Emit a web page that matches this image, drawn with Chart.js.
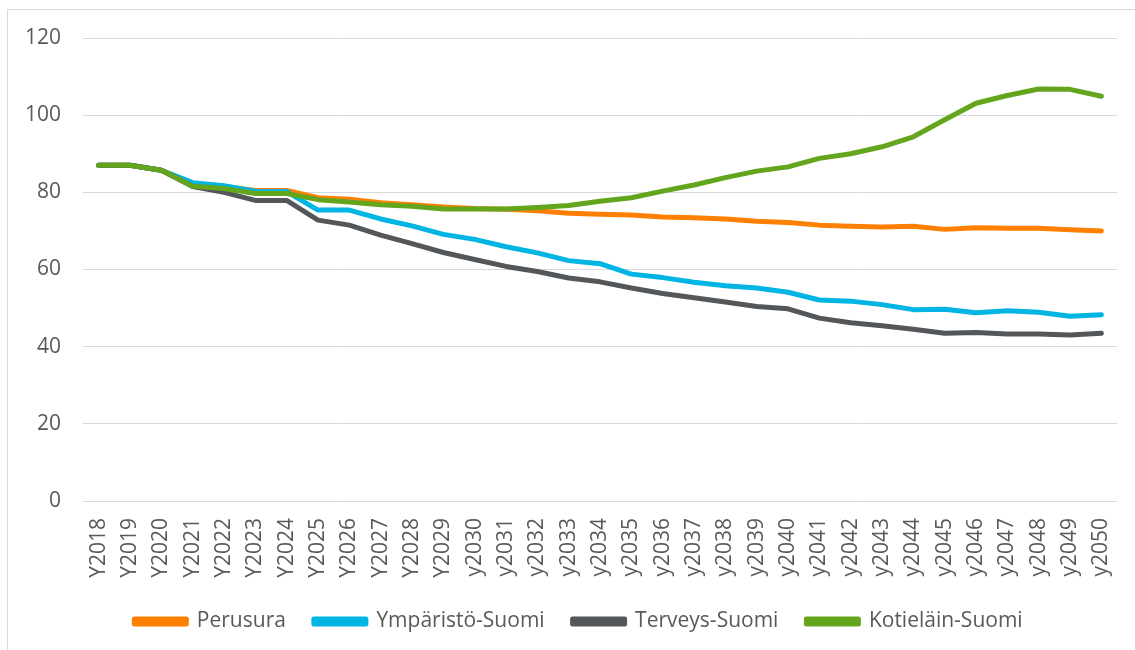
<!DOCTYPE html>
<html>
<head>
<meta charset="utf-8">
<script src="https://cdn.jsdelivr.net/npm/chart.js@4"></script>
<style>
  html, body { margin: 0; padding: 0; background: #fff; }
  #wrap { position: relative; width: 1135px; height: 650px; overflow: hidden; }
  #frame { position: absolute; left: 7px; top: 9px; width: 1200px; height: 700px;
           border-left: 1px solid #d9d9d9; border-top: 1px solid #d9d9d9; pointer-events: none; }
  canvas { position: absolute; left: 0; top: 0; }
</style>
</head>
<body>
<div id="wrap">
  <div id="frame"></div>
  <canvas id="chart" width="1135" height="650"></canvas>
</div>
<script>
var years = ['Y2018', 'Y2019', 'Y2020', 'Y2021', 'Y2022', 'Y2023', 'Y2024', 'Y2025', 'Y2026',
    'Y2027', 'Y2028', 'Y2029', 'y2030', 'y2031', 'y2032', 'y2033', 'y2034', 'y2035', 'y2036',
    'y2037', 'y2038', 'y2039', 'y2040', 'y2041', 'y2042', 'y2043', 'y2044', 'y2045', 'y2046',
    'y2047', 'y2048', 'y2049', 'y2050'];

var perusura = [87, 87, 85.7, 82.2, 81.5, 80.5, 80.5, 78.6, 78.2, 77.3, 76.8, 76.2, 75.8, 75.6,
    75.2, 74.6, 74.3, 74.1, 73.6, 73.4, 73.1, 72.5, 72.2, 71.5, 71.2, 71.0, 71.2, 70.4, 70.8,
    70.7, 70.7, 70.3, 70.0];
var ymparisto = [87, 87, 85.7, 82.5, 81.7, 80.3, 80.2, 75.4, 75.4, 73.1, 71.3, 69.1, 67.8, 65.9,
    64.3, 62.3, 61.5, 58.8, 57.9, 56.7, 55.8, 55.2, 54.1, 52.1, 51.8, 50.9, 49.6, 49.7, 48.8,
    49.3, 48.9, 47.9, 48.3];
var terveys = [87, 87, 85.7, 81.5, 80.0, 77.9, 77.9, 72.8, 71.5, 68.9, 66.7, 64.4, 62.6, 60.8,
    59.5, 57.8, 56.8, 55.2, 53.8, 52.7, 51.6, 50.4, 49.8, 47.4, 46.2, 45.4, 44.5, 43.5, 43.7,
    43.3, 43.3, 43.0, 43.5];
var kotielain = [87, 87, 85.7, 81.6, 81.0, 79.7, 79.7, 78.1, 77.5, 76.8, 76.4, 75.7, 75.7, 75.7,
    76.1, 76.6, 77.7, 78.6, 80.3, 81.9, 83.8, 85.5, 86.6, 88.8, 90.0, 91.8, 94.4, 98.8, 103.1,
    105.1, 106.8, 106.7, 104.9];

var yTicks = [0, 20, 40, 60, 80, 100, 120];

var textColor = '#595959';
var gridColor = '#d9d9d9';
var fontFamily = "'Open Sans', 'Noto Sans', sans-serif";

function series(label, data, color, order) {
    return {
        label: label,
        data: data,
        borderColor: color,
        backgroundColor: color,
        borderWidth: 5,
        pointRadius: 0,
        pointHoverRadius: 0,
        tension: 0,
        borderJoinStyle: 'round',
        borderCapStyle: 'round',
        fill: false,
        order: order
    };
}

// nudge the legend row to sit where the original one is
var legendShift = {
    id: 'legendShift',
    afterLayout(chart) {
        if (chart.legend) {
            chart.legend.left += 20;
            chart.legend.right += 20;
        }
    }
};

new Chart(document.getElementById('chart'), {
    type: 'line',
    data: {
        labels: years,
        datasets: [
            series('Perusura', perusura, '#ff8000', 4),
            series('Ympäristö-Suomi', ymparisto, '#00b4e4', 3),
            series('Terveys-Suomi', terveys, '#53575a', 2),
            series('Kotieläin-Suomi', kotielain, '#64a51e', 1)
        ]
    },
    plugins: [legendShift],
    options: {
        responsive: false,
        animation: false,
        layout: { padding: { left: 0, right: 18, top: 38, bottom: 8 } },
        plugins: {
            tooltip: { enabled: false },
            legend: {
                position: 'bottom',
                labels: {
                    boxWidth: 52,
                    boxHeight: 5,
                    padding: 28,
                    color: textColor,
                    font: { family: fontFamily, size: 21 },
                    sort: (a, b) => a.datasetIndex - b.datasetIndex
                }
            }
        },
        scales: {
            x: {
                offset: true,
                grid: { display: false, drawTicks: false },
                border: { display: false },
                ticks: {
                    autoSkip: false,
                    minRotation: 90,
                    maxRotation: 90,
                    padding: 17,
                    color: textColor,
                    font: { family: fontFamily, size: 21 }
                },
                afterFit: function (scale) {
                    scale.height = 82;
                    scale.paddingLeft = 0;
                    scale.paddingRight = 0;
                }
            },
            y: {
                min: 0,
                max: 120,
                afterBuildTicks: function (scale) {
                    scale.ticks = yTicks.map(v => ({ value: v }));
                },
                grid: { color: gridColor, lineWidth: 1, drawTicks: false },
                border: { display: false },
                ticks: {
                    padding: 22,
                    color: textColor,
                    font: { family: fontFamily, size: 21 }
                },
                afterFit: function (scale) { scale.width = 83; }
            }
        }
    }
});
</script>
</body>
</html>
